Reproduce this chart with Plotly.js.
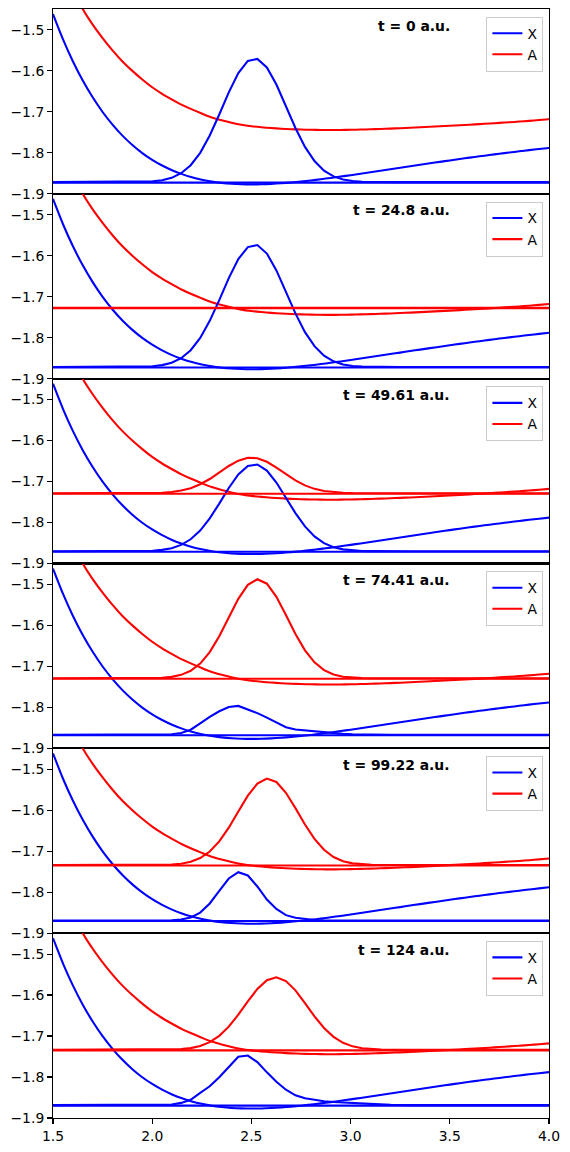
<!DOCTYPE html>
<html>
<head>
<meta charset="utf-8">
<script src="https://cdn.plot.ly/plotly-3.0.1.min.js"></script>
<style>
html, body { margin: 0; padding: 0; background: #ffffff; }
#chart { width: 570px; height: 1152px; }
</style>
</head>
<body>
<div id="chart"></div>
<script>
// ---- data ----
const timeLabels = ["t = 0 a.u.", "t = 24.8 a.u.", "t = 49.61 a.u.", "t = 74.41 a.u.", "t = 99.22 a.u.", "t = 124 a.u."];
const seriesNames = ["X", "A"];

const xPot = [1.50, 1.55, 1.60, 1.65, 1.70, 1.75, 1.80, 1.85, 1.90, 1.95,
  2.00, 2.05, 2.10, 2.15, 2.20, 2.25, 2.30, 2.35, 2.40, 2.45,
  2.50, 2.55, 2.60, 2.65, 2.70, 2.75, 2.80, 2.85, 2.90, 2.95,
  3.00, 3.05, 3.10, 3.15, 3.20, 3.25, 3.30, 3.35, 3.40, 3.45,
  3.50, 3.55, 3.60, 3.65, 3.70, 3.75, 3.80, 3.85, 3.90, 3.95, 4.00];

const potX = [-1.4614, -1.5226, -1.5764, -1.6235, -1.6645, -1.7003, -1.7312, -1.7580, -1.7809, -1.8005,
  -1.8170, -1.8309, -1.8425, -1.8519, -1.8595, -1.8654, -1.8700, -1.8732, -1.8754, -1.8766,
  -1.8770, -1.8767, -1.8757, -1.8742, -1.8722, -1.8699, -1.8673, -1.8644, -1.8612, -1.8579,
  -1.8545, -1.8510, -1.8473, -1.8437, -1.8400, -1.8364, -1.8327, -1.8291, -1.8255, -1.8220,
  -1.8185, -1.8151, -1.8117, -1.8085, -1.8053, -1.8022, -1.7992, -1.7963, -1.7934, -1.7907, -1.7880];

const potA = [-1.300, -1.345, -1.398, -1.449, -1.487, -1.520, -1.550, -1.577, -1.600, -1.621,
  -1.640, -1.656, -1.670, -1.683, -1.694, -1.704, -1.7135, -1.7205, -1.7265, -1.7315,
  -1.7350, -1.7375, -1.7395, -1.7410, -1.7423, -1.7432, -1.7438, -1.7442, -1.7443, -1.7442,
  -1.7438, -1.7432, -1.7425, -1.7417, -1.7408, -1.7398, -1.7388, -1.7377, -1.7365, -1.7353,
  -1.7340, -1.7327, -1.7313, -1.7299, -1.7284, -1.7269, -1.7253, -1.7237, -1.7220, -1.7200, -1.7180];

const xWave = [1.5, 1.858, 1.906, 1.954, 2.002, 2.050, 2.098, 2.146, 2.194, 2.242, 2.290,
  2.338, 2.386, 2.434, 2.482, 2.530, 2.578, 2.626, 2.674, 2.722, 2.770,
  2.818, 2.866, 2.914, 2.962, 3.010, 3.058, 3.106, 3.154, 3.202, 3.250, 3.298, 4.0];

const waveX1 = [-1.8715, -1.8714, -1.8713, -1.8708, -1.8696, -1.8668, -1.8610, -1.8497, -1.8301, -1.7999, -1.7577,
  -1.7064, -1.6523, -1.6054, -1.5758, -1.5708, -1.5918, -1.6333, -1.6860, -1.7393, -1.7855,
  -1.8201, -1.8434, -1.8575, -1.8651, -1.8688, -1.8705, -1.8711, -1.8714, -1.8715, -1.8715, -1.8715, -1.8715];

const waveX2 = [-1.8716, -1.8715, -1.8714, -1.8709, -1.8697, -1.8669, -1.8612, -1.8500, -1.8306, -1.8007, -1.7589,
  -1.7082, -1.6546, -1.6082, -1.5789, -1.5739, -1.5947, -1.6358, -1.6880, -1.7407, -1.7865,
  -1.8207, -1.8438, -1.8577, -1.8653, -1.8689, -1.8706, -1.8712, -1.8715, -1.8716, -1.8716, -1.8716, -1.8716];
const waveA2 = [-1.727, -1.727, -1.727, -1.727, -1.727, -1.727, -1.727, -1.727, -1.727, -1.727, -1.727,
  -1.727, -1.727, -1.727, -1.727, -1.727, -1.727, -1.727, -1.727, -1.727, -1.727,
  -1.727, -1.727, -1.727, -1.727, -1.727, -1.727, -1.727, -1.727, -1.727, -1.727, -1.727, -1.727];

const waveX3 = [-1.8700, -1.8700, -1.8698, -1.8695, -1.8687, -1.8667, -1.8626, -1.8546, -1.8409, -1.8196, -1.7899,
  -1.7538, -1.7158, -1.6828, -1.6619, -1.6584, -1.6732, -1.7024, -1.7395, -1.7770, -1.8095,
  -1.8338, -1.8503, -1.8601, -1.8655, -1.8681, -1.8693, -1.8697, -1.8699, -1.8700, -1.8700, -1.8700, -1.8700];
const waveA3 = [-1.7285, -1.7285, -1.7284, -1.7283, -1.7280, -1.7272, -1.7255, -1.7221, -1.7161, -1.7067, -1.6938,
  -1.6781, -1.6621, -1.6490, -1.6421, -1.6431, -1.6518, -1.6660, -1.6822, -1.6973, -1.7094,
  -1.7179, -1.7231, -1.7260, -1.7275, -1.7281, -1.7284, -1.7285, -1.7285, -1.7285, -1.7285, -1.7285, -1.7285];

const waveX4 = [-1.8670, -1.8670, -1.8669, -1.8668, -1.8666, -1.8662, -1.8655, -1.8625, -1.8545, -1.8392, -1.8232,
  -1.8095, -1.7990, -1.7965, -1.8050, -1.8140, -1.8250, -1.8370, -1.8485, -1.8540, -1.8565,
  -1.8580, -1.8605, -1.8628, -1.8648, -1.8660, -1.8667, -1.8669, -1.8670, -1.8670, -1.8670, -1.8670, -1.8670];
const waveA4 = [-1.7290, -1.7290, -1.7290, -1.7289, -1.7286, -1.7277, -1.7256, -1.7207, -1.7108, -1.6931, -1.6651,
  -1.6264, -1.5806, -1.5353, -1.5012, -1.4875, -1.4983, -1.5302, -1.5747, -1.6210, -1.6608,
  -1.6902, -1.7091, -1.7198, -1.7252, -1.7276, -1.7285, -1.7289, -1.7290, -1.7290, -1.7290, -1.7290, -1.7290];

const waveX5 = [-1.8690, -1.8690, -1.8690, -1.8690, -1.8690, -1.8689, -1.8684, -1.8668, -1.8617, -1.8498, -1.8276,
  -1.7967, -1.7666, -1.7513, -1.7593, -1.7860, -1.8180, -1.8410, -1.8560, -1.8625, -1.8660,
  -1.8678, -1.8685, -1.8688, -1.8690, -1.8690, -1.8690, -1.8690, -1.8690, -1.8690, -1.8690, -1.8690, -1.8690];
const waveA5 = [-1.7338, -1.7338, -1.7338, -1.7338, -1.7337, -1.7334, -1.7325, -1.7304, -1.7258, -1.7168, -1.7009,
  -1.6762, -1.6427, -1.6033, -1.5646, -1.5352, -1.5229, -1.5311, -1.5574, -1.5949, -1.6348,
  -1.6699, -1.6965, -1.7141, -1.7244, -1.7297, -1.7322, -1.7332, -1.7336, -1.7337, -1.7338, -1.7338, -1.7338];

const waveX6 = [-1.8686, -1.8686, -1.8686, -1.8686, -1.8686, -1.8683, -1.8671, -1.8631, -1.8556, -1.8386, -1.8226,
  -1.8006, -1.7746, -1.7506, -1.7476, -1.7636, -1.7886, -1.8116, -1.8311, -1.8446, -1.8516,
  -1.8561, -1.8591, -1.8608, -1.8621, -1.8636, -1.8651, -1.8664, -1.8674, -1.8680, -1.8684, -1.8686, -1.8686];
const waveA6 = [-1.7337, -1.7337, -1.7337, -1.7337, -1.7336, -1.7335, -1.7330, -1.7319, -1.7295, -1.7244, -1.7150,
  -1.6996, -1.6771, -1.6479, -1.6154, -1.5852, -1.5638, -1.5567, -1.5658, -1.5886, -1.6195,
  -1.6519, -1.6803, -1.7019, -1.7165, -1.7252, -1.7299, -1.7321, -1.7331, -1.7335, -1.7336, -1.7337, -1.7337];

// energy level lines drawn under each packet (X: all panels, A: panels 2-6)
const xLevel = [1.5, 4.0];
const levelX = [-1.8727, -1.8728, -1.8712, -1.8682, -1.8702, -1.8698];
const levelA = [null, -1.7282, -1.7297, -1.7302, -1.7350, -1.7349];

const xTickVals = [1.5, 2.0, 2.5, 3.0, 3.5, 4.0];
const xTickText = ["1.5", "2.0", "2.5", "3.0", "3.5", "4.0"];
const yTickVals = [-1.9, -1.8, -1.7, -1.6, -1.5];
const yTickText = ["\u22121.9", "\u22121.8", "\u22121.7", "\u22121.6", "\u22121.5"];

const wavesX = [waveX1, waveX2, waveX3, waveX4, waveX5, waveX6];
const wavesA = [null, waveA2, waveA3, waveA4, waveA5, waveA6];

// ---- figure ----
const BLUE = "#0000ff", RED = "#ff0000";
const LW = 2.08;
const FONT = "DejaVu Sans, Liberation Sans, sans-serif";
const FS = 13.9;
const nP = 6;
const W = 570, H = 1152, ML = 53, MR = 21, MT = 9, MB = 34;
const plotH = H - MT - MB;

const traces = [];
const layout = {
  width: W, height: H,
  margin: {l: ML, r: MR, t: MT, b: MB, pad: 0},
  paper_bgcolor: "#ffffff", plot_bgcolor: "#ffffff",
  font: {family: FONT, size: FS, color: "#000000"},
  annotations: [],
  showlegend: true
};

for (let k = 0; k < nP; k++) {
  const s = k + 1;
  const xa = "x" + s, ya = "y" + s;
  const lg = s === 1 ? "legend" : "legend" + s;
  traces.push({x: xPot, y: potX, type: "scatter", mode: "lines", name: seriesNames[0],
    xaxis: xa, yaxis: ya, legend: lg, showlegend: true,
    line: {color: BLUE, width: LW, shape: "spline", smoothing: 0.6}, hoverinfo: "skip"});
  traces.push({x: xPot, y: potA, type: "scatter", mode: "lines", name: seriesNames[1],
    xaxis: xa, yaxis: ya, legend: lg, showlegend: true,
    line: {color: RED, width: LW, shape: "spline", smoothing: 0.6}, hoverinfo: "skip"});
  traces.push({x: xLevel, y: [levelX[k], levelX[k]], type: "scatter", mode: "lines", name: "E X",
    xaxis: xa, yaxis: ya, showlegend: false,
    line: {color: BLUE, width: LW}, hoverinfo: "skip"});
  traces.push({x: xWave, y: wavesX[k], type: "scatter", mode: "lines", name: seriesNames[0] + " wp",
    xaxis: xa, yaxis: ya, showlegend: false,
    line: {color: BLUE, width: LW}, hoverinfo: "skip"});
  if (wavesA[k]) {
    traces.push({x: xLevel, y: [levelA[k], levelA[k]], type: "scatter", mode: "lines", name: "E A",
      xaxis: xa, yaxis: ya, showlegend: false,
      line: {color: RED, width: LW}, hoverinfo: "skip"});
    traces.push({x: xWave, y: wavesA[k], type: "scatter", mode: "lines", name: seriesNames[1] + " wp",
      xaxis: xa, yaxis: ya, showlegend: false,
      line: {color: RED, width: LW}, hoverinfo: "skip"});
  }

  const top = 1 - k / nP, bot = 1 - (k + 1) / nP;
  const isBottom = (s === nP);
  layout["xaxis" + (s === 1 ? "" : s)] = {
    domain: [0, 1], range: [1.5, 4.0], anchor: ya,
    showline: true, mirror: true, linecolor: "#000000", linewidth: 1.1,
    showgrid: false, zeroline: false,
    ticks: isBottom ? "outside" : "", ticklen: 4.9, tickwidth: 1.1, tickcolor: "#000000",
    tickmode: "array", tickvals: xTickVals, ticktext: xTickText,
    showticklabels: isBottom,
    tickfont: {family: FONT, size: FS, color: "#000000"}
  };
  layout["yaxis" + (s === 1 ? "" : s)] = {
    domain: [bot, top], range: [-1.9, -1.449], anchor: xa,
    showline: true, mirror: true, linecolor: "#000000", linewidth: 1.1,
    showgrid: false, zeroline: false,
    ticks: "outside", ticklen: 4.9, tickwidth: 1.1, tickcolor: "#000000",
    tickmode: "array", tickvals: yTickVals, ticktext: yTickText,
    tickfont: {family: FONT, size: FS, color: "#000000"}
  };

  layout.annotations.push({
    text: timeLabels[k], xref: xa + " domain", yref: ya + " domain",
    x: 0.805, y: 0.91, xanchor: "right", yanchor: "middle", showarrow: false,
    font: {family: FONT, size: FS, color: "#000000", weight: "bold"}
  });

  const legTopPx = 7.7 + k * (plotH / nP);
  layout[lg] = {
    x: 0.9887, xanchor: "right", y: 1 - legTopPx / plotH, yanchor: "top",
    bgcolor: "rgba(255,255,255,0.8)", bordercolor: "#cccccc", borderwidth: 1,
    font: {family: FONT, size: FS, color: "#000000"},
    traceorder: "normal", tracegroupgap: 0
  };
}

Plotly.newPlot("chart", traces, layout, {displayModeBar: false, staticPlot: true});
</script>
</body>
</html>
